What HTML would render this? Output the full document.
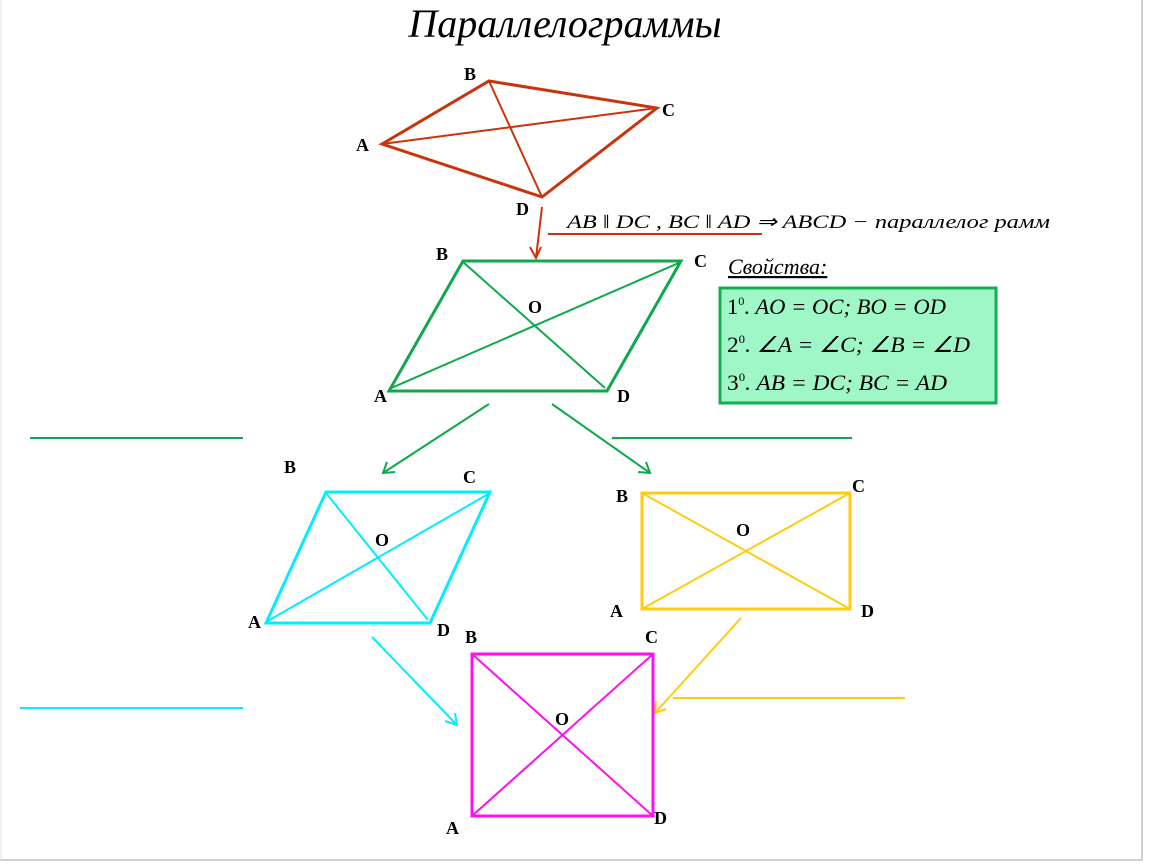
<!DOCTYPE html>
<html><head><meta charset="utf-8"><style>
html,body{margin:0;padding:0;background:#fff;}
svg{display:block;}
.l{font-family:"Liberation Serif",serif;font-weight:bold;font-size:18px;fill:#000;}
.m{font-family:"Liberation Serif",serif;font-style:italic;fill:#000;}
</style></head><body>
<svg width="1150" height="864" viewBox="0 0 1150 864" xmlns="http://www.w3.org/2000/svg">
<rect x="0" y="0" width="1150" height="864" fill="#fff"/>
<line x1="1142" y1="0" x2="1142" y2="861" stroke="#d0d0d0" stroke-width="2"/>
<line x1="0" y1="860" x2="1142" y2="860" stroke="#d0d0d0" stroke-width="2"/>
<line x1="1" y1="0" x2="1" y2="861" stroke="#e0e0e0" stroke-width="1"/>
<text x="565" y="37" text-anchor="middle" class="m" style="font-size:40px">Параллелограммы</text>

<!-- red -->
<polygon points="382,144 489,81 657,108 542,197" fill="none" stroke="#c8340c" stroke-width="3"/>
<line x1="382" y1="144" x2="657" y2="108" stroke="#c8340c" stroke-width="2"/>
<line x1="489" y1="81" x2="542" y2="197" stroke="#c8340c" stroke-width="2"/>
<text x="464" y="80" class="l">B</text><text x="662" y="116" class="l">C</text>
<text x="356" y="151" class="l">A</text><text x="516" y="215" class="l">D</text>
<line x1="542" y1="207" x2="536" y2="258" stroke="#c8340c" stroke-width="2"/>
<path d="M530,247 L536,258 L541,247" fill="none" stroke="#c8340c" stroke-width="2"/>
<line x1="548" y1="234" x2="762" y2="234" stroke="#c8340c" stroke-width="2"/>
<text x="567" y="228" class="m" style="font-size:19px" textLength="483" lengthAdjust="spacingAndGlyphs">AB ‖ DC , BC ‖ AD ⇒  ABCD  − параллелог рамм</text>

<!-- green -->
<polygon points="463,261 681,261 607,391 389,391" fill="none" stroke="#10a84c" stroke-width="3"/>
<line x1="389" y1="389" x2="681" y2="262" stroke="#10a84c" stroke-width="2"/>
<line x1="463" y1="262" x2="605" y2="388" stroke="#10a84c" stroke-width="2"/>
<text x="436" y="260" class="l">B</text><text x="694" y="267" class="l">C</text>
<text x="528" y="313" class="l">O</text><text x="374" y="402" class="l">A</text><text x="617" y="402" class="l">D</text>
<text x="728" y="274" class="m" style="font-size:22px;text-decoration:underline">Свойства:</text>
<rect x="720" y="288" width="276" height="115" fill="#9ff7c8" stroke="#10b050" stroke-width="3"/>
<text x="727" y="314" class="m" style="font-size:22px" textLength="219" lengthAdjust="spacingAndGlyphs"><tspan font-style="normal">1</tspan><tspan font-style="normal" font-size="12" dy="-9">0</tspan><tspan dy="9">. AO = OC; BO = OD</tspan></text>
<text x="727" y="352" class="m" style="font-size:22px" textLength="243" lengthAdjust="spacingAndGlyphs"><tspan font-style="normal">2</tspan><tspan font-style="normal" font-size="12" dy="-9">0</tspan><tspan dy="9">. ∠A = ∠C; ∠B = ∠D</tspan></text>
<text x="727" y="390" class="m" style="font-size:22px" textLength="220" lengthAdjust="spacingAndGlyphs"><tspan font-style="normal">3</tspan><tspan font-style="normal" font-size="12" dy="-9">0</tspan><tspan dy="9">. AB = DC; BC = AD</tspan></text>
<line x1="489" y1="404" x2="383" y2="473" stroke="#10a84c" stroke-width="2"/>
<path d="M387,462 L383,473 L395,472" fill="none" stroke="#10a84c" stroke-width="2"/>
<line x1="552" y1="404" x2="650" y2="473" stroke="#10a84c" stroke-width="2"/>
<path d="M638,472 L650,473 L646,462" fill="none" stroke="#10a84c" stroke-width="2"/>
<line x1="30" y1="438" x2="243" y2="438" stroke="#10a84c" stroke-width="2"/>
<line x1="612" y1="438" x2="852" y2="438" stroke="#10a84c" stroke-width="2"/>

<!-- cyan -->
<polygon points="326,492 490,492 430,623 266,623" fill="none" stroke="#00eeff" stroke-width="3"/>
<line x1="266" y1="622" x2="490" y2="493" stroke="#00eeff" stroke-width="2"/>
<line x1="326" y1="493" x2="428" y2="620" stroke="#00eeff" stroke-width="2"/>
<text x="284" y="473" class="l">B</text><text x="463" y="483" class="l">C</text>
<text x="375" y="546" class="l">O</text><text x="248" y="628" class="l">A</text><text x="437" y="636" class="l">D</text>
<line x1="372" y1="637" x2="457" y2="725" stroke="#00eeff" stroke-width="2"/>
<path d="M445,721 L457,725 L455,713" fill="none" stroke="#00eeff" stroke-width="2"/>
<line x1="20" y1="708" x2="243" y2="708" stroke="#00eeff" stroke-width="2"/>

<!-- yellow -->
<rect x="642" y="493" width="208" height="116" fill="none" stroke="#ffcc10" stroke-width="3"/>
<line x1="642" y1="493" x2="850" y2="609" stroke="#ffcc10" stroke-width="2"/>
<line x1="642" y1="609" x2="850" y2="493" stroke="#ffcc10" stroke-width="2"/>
<text x="616" y="502" class="l">B</text><text x="852" y="492" class="l">C</text>
<text x="736" y="536" class="l">O</text><text x="610" y="617" class="l">A</text><text x="861" y="617" class="l">D</text>
<line x1="741" y1="618" x2="655" y2="713" stroke="#ffcc10" stroke-width="2"/>
<path d="M656,701 L655,713 L666,709" fill="none" stroke="#ffcc10" stroke-width="2"/>
<line x1="673" y1="698" x2="905" y2="698" stroke="#ffcc10" stroke-width="2"/>

<!-- magenta -->
<rect x="472" y="654" width="181" height="162" fill="none" stroke="#ff10ee" stroke-width="3"/>
<line x1="472" y1="654" x2="653" y2="816" stroke="#ff10ee" stroke-width="2"/>
<line x1="472" y1="816" x2="653" y2="654" stroke="#ff10ee" stroke-width="2"/>
<text x="465" y="643" class="l">B</text><text x="645" y="643" class="l">C</text>
<text x="555" y="725" class="l">O</text><text x="446" y="834" class="l">A</text><text x="654" y="824" class="l">D</text>
</svg>
</body></html>
